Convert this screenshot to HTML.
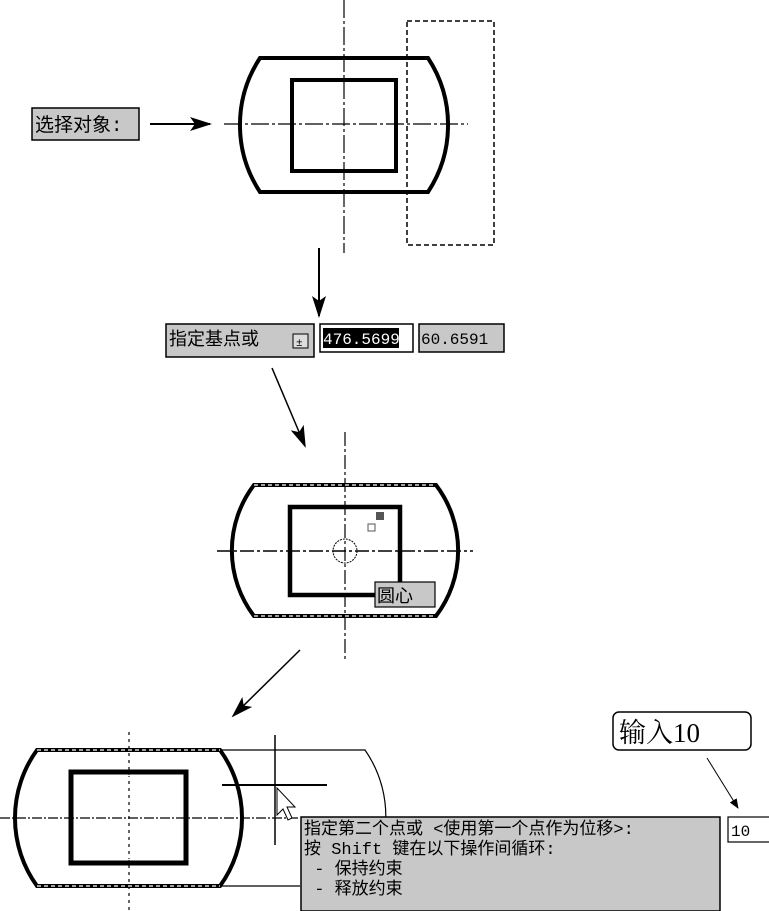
<!DOCTYPE html>
<html><head><meta charset="utf-8"><style>
html,body{margin:0;padding:0;background:#fff;}
svg{display:block}
text{font-family:"Liberation Mono","Noto Sans CJK SC",monospace;}
</style></head><body>
<svg width="769" height="911" viewBox="0 0 769 911" xmlns="http://www.w3.org/2000/svg">
<defs>
<marker id="ah" markerWidth="10" markerHeight="8" refX="9" refY="4" orient="auto" markerUnits="userSpaceOnUse"><path d="M0,0 L10,4 L0,8 z" fill="#000"/></marker>
<marker id="ah2" markerWidth="22" markerHeight="14" refX="20" refY="7" orient="auto" markerUnits="userSpaceOnUse"><path d="M0,0 L22,7 L0,14 L5,7 z" fill="#000"/></marker>
</defs>
<!-- TOP -->
<line x1="344" y1="0" x2="344" y2="253" stroke="#000" stroke-width="1.2" stroke-dasharray="18,3,3,3"/>
<path d="M260,58 L428,58 A122,122 0 0 1 428,192 L260,192 A122,122 0 0 1 260,58 Z" fill="none" stroke="#000" stroke-width="4"/>
<rect x="292" y="80" width="104" height="91" fill="none" stroke="#000" stroke-width="4"/>
<line x1="224" y1="124" x2="468" y2="124" stroke="#000" stroke-width="1.2" stroke-dasharray="18,3,3,3"/>
<rect x="407" y="21" width="87" height="224" fill="none" stroke="#000" stroke-width="1.5" stroke-dasharray="5,3"/>
<rect x="32" y="108" width="107" height="32" fill="#c8c8c8" stroke="#000" stroke-width="1.5"/>
<text x="35" y="131" font-size="19">选择对象:</text>
<line x1="150" y1="124" x2="210" y2="124" stroke="#000" stroke-width="2" marker-end="url(#ah2)"/>
<line x1="319" y1="248" x2="319" y2="316" stroke="#000" stroke-width="2" marker-end="url(#ah2)"/>
<!-- input row -->
<rect x="166" y="324" width="148" height="33" fill="#c8c8c8" stroke="#000" stroke-width="1.5"/>
<text x="169" y="345" font-size="18">指定基点或</text>
<rect x="293" y="334" width="15" height="14" fill="#ddd" stroke="#000"/>
<text x="296" y="346" font-size="11">±</text>
<rect x="320" y="324" width="93" height="28" fill="#fff" stroke="#000" stroke-width="1.5"/>
<rect x="323" y="328" width="76" height="20" fill="#000"/>
<text x="323" y="344" font-size="16" fill="#fff">476.5699</text>
<rect x="419" y="324" width="85" height="28" fill="#c8c8c8" stroke="#000" stroke-width="1.5"/>
<text x="421" y="344" font-size="16">60.6591</text>
<line x1="272" y1="368" x2="305" y2="446" stroke="#000" stroke-width="1.5" marker-end="url(#ah2)"/>
<!-- MIDDLE -->
<line x1="345" y1="432" x2="345" y2="660" stroke="#000" stroke-width="1.2" stroke-dasharray="14,3,3,3"/>
<path d="M254,485 L436,485 A108,108 0 0 1 436,616 L254,616 A108,108 0 0 1 254,485 Z" fill="none" stroke="#000" stroke-width="4"/>
<path d="M254,485 L436,485 M254,616 L436,616" stroke="#fff" stroke-width="1.2" stroke-dasharray="4,3"/>
<rect x="290" y="507" width="110" height="88" fill="none" stroke="#000" stroke-width="4.5"/>
<line x1="217" y1="551" x2="473" y2="551" stroke="#000" stroke-width="1.5" stroke-dasharray="14,3,3,3"/>
<circle cx="345" cy="551" r="12" fill="none" stroke="#000" stroke-width="1" stroke-dasharray="2,1"/>
<rect x="376" y="512" width="8" height="8" fill="#555"/>
<rect x="368" y="524" width="7" height="7" fill="#fff" stroke="#555"/>
<rect x="375" y="582" width="60" height="25" fill="#c8c8c8" stroke="#000" stroke-width="1.2"/>
<text x="377" y="602" font-size="18">圆心</text>
<line x1="300" y1="650" x2="233" y2="716" stroke="#000" stroke-width="1.5" marker-end="url(#ah2)"/>
<!-- BOTTOM -->
<line x1="129" y1="732" x2="129" y2="911" stroke="#000" stroke-width="1.2" stroke-dasharray="3,4"/>
<path d="M220,750 L365,750 A116,116 0 0 1 385,830 M220,886 L300,886" fill="none" stroke="#000" stroke-width="1.2"/>
<path d="M37,750 L220,750 A116,116 0 0 1 220,886 L37,886 A116,116 0 0 1 37,750 Z" fill="none" stroke="#000" stroke-width="4"/>
<path d="M37,750 L220,750 M37,886 L220,886" stroke="#fff" stroke-width="1.2" stroke-dasharray="4,3"/>
<rect x="71" y="772" width="115" height="91" fill="none" stroke="#000" stroke-width="5"/>
<rect x="74.5" y="775.5" width="108" height="84" fill="none" stroke="#fff" stroke-width="1.2"/>
<line x1="0" y1="818" x2="300" y2="818" stroke="#000" stroke-width="1.2" stroke-dasharray="10,2,2,2"/>
<line x1="275" y1="735" x2="275" y2="845" stroke="#000" stroke-width="1.5"/>
<line x1="222" y1="785" x2="327" y2="785" stroke="#000" stroke-width="2"/>
<path d="M277,788 L277,815 L283,809 L288,820 L292,818 L287,807 L295,807 Z" fill="#fff" stroke="#000" stroke-width="1"/>
<rect x="301" y="817" width="419" height="94" fill="#c8c8c8" stroke="#000" stroke-width="1.5"/>
<text font-size="17"><tspan x="304" y="834">指定第二个点或 &lt;使用第一个点作为位移&gt;:</tspan><tspan x="304" y="854">按 Shift 键在以下操作间循环:</tspan><tspan x="304" y="874">  - 保持约束</tspan><tspan x="304" y="894">  - 释放约束</tspan></text>
<rect x="728" y="817" width="45" height="25" fill="#fff" stroke="#000" stroke-width="1.2"/>
<text x="731" y="836" font-size="16">10</text>
<rect x="613" y="712" width="138" height="38" rx="6" fill="#fff" stroke="#000" stroke-width="1.5"/>
<text x="619" y="742" font-size="27" style="font-family:'Liberation Serif','Noto Serif CJK SC',serif">输入10</text>
<line x1="707" y1="758" x2="738" y2="808" stroke="#000" stroke-width="1" marker-end="url(#ah)"/>
</svg>
</body></html>
